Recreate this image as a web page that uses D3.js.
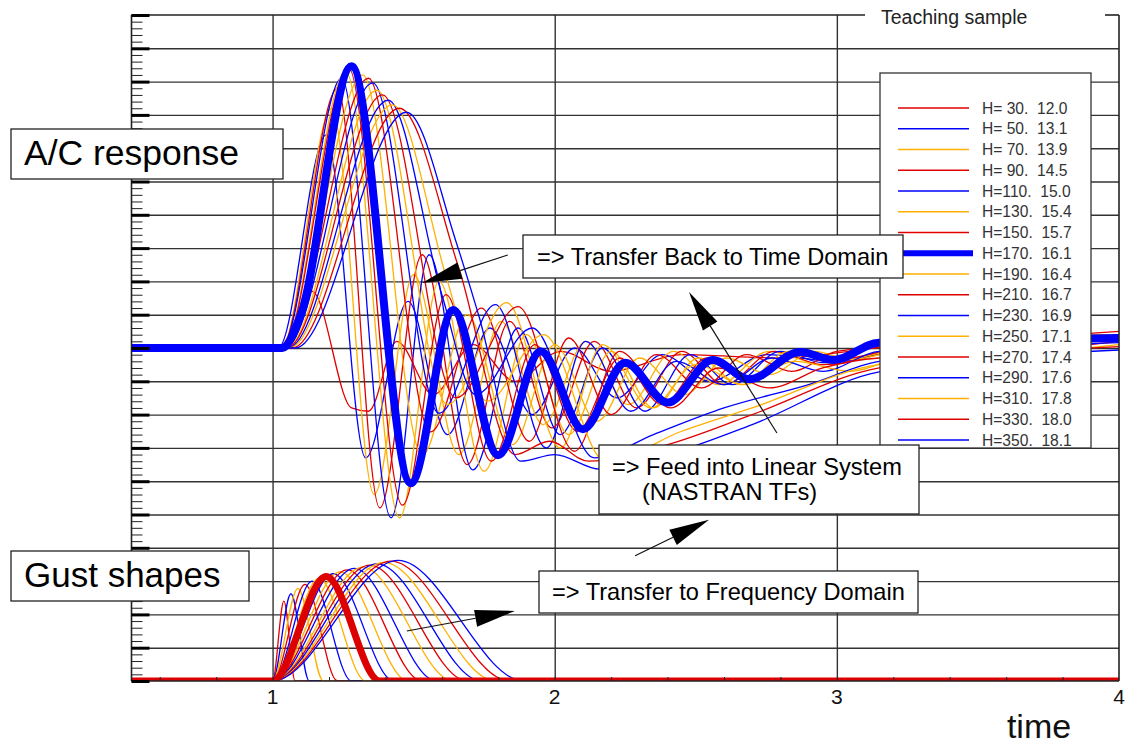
<!DOCTYPE html>
<html>
<head>
<meta charset="utf-8">
<script src="https://cdn.jsdelivr.net/npm/d3@7/dist/d3.min.js"></script>
<style>
  html, body { margin: 0; padding: 0; background: #fff; }
  svg text { font-family: "Liberation Sans", Arial, sans-serif; }
  .legendLabel { white-space: pre; }
</style>
</head>
<body>
<div id="viz"></div>
<script>
/*  Gust response teaching chart
    17 gust gradients H, their gust velocities, and the A/C response of each  */

// Gust gradient H and design gust velocity (the legend)
const gustH = [30, 50, 70, 90, 110, 130, 150, 170, 190, 210, 230, 250, 270, 290, 310, 330, 350];
const gustU = [12.0, 13.1, 13.9, 14.5, 15.0, 15.4, 15.7, 16.1, 16.4, 16.7, 16.9, 17.1, 17.4, 17.6, 17.8, 18.0, 18.1];

// gusts all start at t = 1, end time
const gustStart = 1.0;
const gustEnd = [1.08, 1.13, 1.18, 1.23, 1.28, 1.33, 1.38, 1.43, 1.48, 1.53, 1.58, 1.64, 1.69, 1.74, 1.79, 1.84, 1.89];

// A/C response, knots [time, value] (one list per H)
const resp30  = [[0.5,50],[1.02,50],[1.14,58.5],[1.28,41],[1.34,40.5],[1.44,51],[1.57,43],[1.71,50.5],[1.86,45],[2.02,49.5],[2.2,46.5],[2.45,49],[2.8,48.5],[3.2,50.2],[4.0,51]];
const resp50  = [[0.5,50],[1.02,50],[1.19,82],[1.33,33.5],[1.48,57],[1.62,37],[1.77,53],[1.92,40],[2.07,50],[2.22,42.5],[2.38,49],[2.55,45],[2.75,49],[3.0,48],[3.3,50.5],[4.0,51.5]];
const resp70  = [[0.5,50],[1.03,50],[1.21,86],[1.36,28],[1.50,61],[1.66,34],[1.81,54],[1.96,38.5],[2.11,51],[2.26,41.5],[2.42,49.5],[2.58,44.5],[2.76,49.5],[2.95,47.5],[3.3,50.5],[4.0,52]];
const resp90  = [[0.5,50],[1.03,50],[1.23,89],[1.38,26],[1.53,64],[1.69,32.5],[1.84,54],[1.99,38],[2.14,51],[2.29,41],[2.45,49.5],[2.6,44.5],[2.78,49.5],[2.95,47.5],[3.3,50.5],[4.0,52]];
const resp110 = [[0.5,50],[1.03,50],[1.245,90.5],[1.42,24.5],[1.555,64],[1.71,31.7],[1.87,53],[2.02,37],[2.17,50],[2.32,40.5],[2.48,49],[2.63,44.5],[2.8,49.5],[2.95,47.8],[3.3,50.5],[4.0,52]];
const resp130 = [[0.5,50],[1.035,50],[1.26,91.5],[1.45,24.5],[1.59,60],[1.75,31.5],[1.90,52],[2.05,37],[2.2,49.5],[2.35,41],[2.51,48.5],[2.66,44.5],[2.83,49.5],[2.97,48],[3.3,50.5],[4.0,52]];
const resp150 = [[0.5,50],[1.035,50],[1.27,92],[1.46,26.4],[1.615,58],[1.775,33],[1.93,50.5],[2.08,37.5],[2.23,48.5],[2.38,41.5],[2.54,48.5],[2.68,45],[2.85,49.5],[2.98,48.2],[3.3,50.7],[4.0,51.8]];
const resp170 = [[0.5,50],[1.035,50],[1.10,55],[1.28,92.3],[1.49,29.7],[1.64,55.7],[1.80,33.9],[1.95,49.5],[2.10,37.8],[2.25,47.8],[2.40,41.8],[2.56,48.2],[2.69,45.3],[2.87,49.4],[2.99,48.2],[3.15,50.8],[3.45,50.2],[3.7,51.2],[4.0,51.5]];
const resp190 = [[0.5,50],[1.04,50],[1.32,91],[1.53,33.9],[1.69,55],[1.85,35.5],[2.0,50.5],[2.15,39],[2.3,48.5],[2.46,43],[2.61,48.5],[2.76,46],[2.92,49.5],[3.05,48.3],[3.3,50.5],[4.0,52]];
const resp210 = [[0.5,50],[1.04,50],[1.34,90.5],[1.56,37.4],[1.74,56],[1.91,36],[2.05,51.5],[2.2,40],[2.36,49],[2.52,44],[2.68,49],[2.84,46.5],[3.0,49.5],[3.3,50.5],[4.0,52.5]];
const resp230 = [[0.5,50],[1.045,50],[1.355,89.8],[1.59,40.2],[1.79,56.5],[1.97,35],[2.11,51],[2.27,40.5],[2.43,48],[2.6,44.5],[2.77,48.5],[2.95,46.5],[3.15,49.5],[3.5,50],[4.0,52]];
const resp250 = [[0.5,50],[1.05,50],[1.37,88.7],[1.62,41.5],[1.83,56.8],[2.02,35],[2.17,50.5],[2.34,41],[2.5,47.5],[2.67,44.5],[2.85,48],[3.05,46.5],[3.25,49],[4.0,51.5]];
const resp270 = [[0.5,50],[1.05,50],[1.39,88],[1.65,42.5],[1.87,56.2],[2.07,34.5],[2.23,49.5],[2.41,41],[2.58,47],[2.76,44],[2.95,47],[3.15,48.5],[3.5,49],[4.0,51]];
const resp290 = [[0.5,50],[1.055,50],[1.41,87.2],[1.60,58],[1.72,43],[1.92,53],[2.14,33.5],[2.35,37],[2.6,41],[2.9,44.5],[3.15,48],[4.0,50.8]];
const resp310 = [[0.5,50],[1.06,50],[1.425,86.5],[1.62,60],[1.76,42],[1.96,52],[2.18,33],[2.45,37.5],[2.7,41],[3.15,47.5],[3.5,48.5],[4.0,50.5]];
const resp330 = [[0.5,50],[1.07,50],[1.45,86],[1.66,62],[1.86,34],[1.98,36],[2.12,33],[2.4,35.5],[2.7,40],[3.15,47],[4.0,50.2]];
const resp350 = [[0.5,50],[1.08,50],[1.475,85.4],[1.65,66],[1.73,55],[1.88,33],[2.0,34],[2.16,31.8],[2.4,34],[2.7,38.5],[3.15,46.4],[4.0,49.7]];

const acResponse = [resp30, resp50, resp70, resp90, resp110, resp130, resp150, resp170, resp190,
                    resp210, resp230, resp250, resp270, resp290, resp310, resp330, resp350];

const xTickLabels = [1, 2, 3, 4];
const lineColors = ["#e00000", "#0000ff", "#ffb000"];   // red, blue, orange cycle
const thickResponse = 7;   // H=170
const thickGust = 6;       // H=150

/*################
#     Layout     #
################*/
const W = 1125, H = 747;
const svg = d3.select("#viz").append("svg")
    .attr("width", W)
    .attr("height", H);

const x = d3.scaleLinear().domain([0.5, 4]).range([131.5, 1119]);
const y = d3.scaleLinear().domain([0, 100]).range([681, 15]);
const plotW = x(4) - x(0.5), plotH = y(0) - y(100);

svg.append("defs").append("clipPath").attr("id", "plotClip")
  .append("rect")
    .attr("x", x(0.5)).attr("y", y(100))
    .attr("width", plotW).attr("height", plotH);

// horizontal grid
svg.append("g")
    .attr("transform", "translate(" + x(0.5) + ",0)")
    .call(d3.axisLeft(y).tickValues(d3.range(5, 100, 5)).tickSize(-plotW).tickFormat(""))
    .call(g => g.select(".domain").remove())
    .selectAll("line").attr("stroke", "#333").attr("stroke-width", 1.4);

// vertical grid
svg.append("g")
    .attr("transform", "translate(0," + y(0) + ")")
    .call(d3.axisBottom(x).tickValues([1, 2, 3]).tickSize(-plotH).tickFormat(""))
    .call(g => g.select(".domain").remove())
    .selectAll("line").attr("stroke", "#333").attr("stroke-width", 1.4);

/*################
#     Curves     #
################*/
const line = d3.line()
    .x(d => x(d[0]))
    .y(d => y(d[1]))
    .curve(d3.curveMonotoneX);

const curves = svg.append("g").attr("clip-path", "url(#plotClip)");

// gust shapes (1-cos, peak in the middle of the gust)
const gustKnots = gustH.map((h, i) => [[0.5, 0], [gustStart, 0], [(gustStart + gustEnd[i]) / 2, gustU[i]], [gustEnd[i], 0], [4, 0]]);

gustKnots.forEach((k, i) => {
    if (i == thickGust) return;
    curves.append("path")
        .attr("d", line(k))
        .attr("fill", "none")
        .attr("stroke", lineColors[i % 3])
        .attr("stroke-width", 1.3);
});

acResponse.forEach((k, i) => {
    if (i == thickResponse) return;
    curves.append("path")
        .attr("d", line(k))
        .attr("fill", "none")
        .attr("stroke", lineColors[i % 3])
        .attr("stroke-width", 1.3);
});

curves.append("path")
    .attr("d", line(gustKnots[thickGust]))
    .attr("fill", "none")
    .attr("stroke", "#dd0000")
    .attr("stroke-width", 7);

curves.append("path")
    .attr("d", line(acResponse[thickResponse]))
    .attr("fill", "none")
    .attr("stroke", "#0000ff")
    .attr("stroke-width", 8);

/*################
#   Axes/frame   #
################*/
const frame = svg.append("g").attr("stroke", "#222").attr("fill", "none");
frame.append("line").attr("x1", x(0.5)).attr("x2", x(0.5)).attr("y1", y(100)).attr("y2", y(0)).attr("stroke-width", 1.6);
frame.append("line").attr("x1", x(4)).attr("x2", x(4)).attr("y1", y(100)).attr("y2", y(0)).attr("stroke-width", 1.6);
frame.append("line").attr("x1", x(0.5)).attr("x2", x(4)).attr("y1", y(0)).attr("y2", y(0)).attr("stroke-width", 1.6);
// top frame is broken by the title
frame.append("line").attr("x1", x(0.5)).attr("x2", 865).attr("y1", y(100)).attr("y2", y(100)).attr("stroke-width", 1.6);
frame.append("line").attr("x1", 1105).attr("x2", x(4)).attr("y1", y(100)).attr("y2", y(100)).attr("stroke-width", 1.6);

// y ticks, major & minor, drawn inward
svg.append("g")
    .attr("transform", "translate(" + x(0.5) + ",0)")
    .call(d3.axisLeft(y).tickValues(d3.range(0, 101, 1)).tickSize(-11).tickFormat(""))
    .call(g => g.select(".domain").remove())
    .selectAll("line").attr("stroke", "#222").attr("stroke-width", 1);
svg.append("g")
    .attr("transform", "translate(" + x(0.5) + ",0)")
    .call(d3.axisLeft(y).tickValues(d3.range(0, 101, 5)).tickSize(-18).tickFormat(""))
    .call(g => g.select(".domain").remove())
    .selectAll("line").attr("stroke", "#000").attr("stroke-width", 3);

// x minor ticks
svg.append("g")
    .attr("transform", "translate(0," + y(0) + ")")
    .call(d3.axisBottom(x).tickValues(d3.range(3, 20).map(k => k / 5)).tickSize(-4).tickFormat(""))
    .call(g => g.select(".domain").remove())
    .selectAll("line").attr("stroke", "#222").attr("stroke-width", 1);

// x labels
svg.append("g").selectAll("text")
    .data(xTickLabels)
    .enter().append("text")
    .attr("x", d => x(d))
    .attr("y", 704)
    .attr("text-anchor", "middle")
    .attr("font-size", 21)
    .attr("fill", "#111")
    .text(d => d);

svg.append("text")
    .attr("x", 1039).attr("y", 738)
    .attr("text-anchor", "middle")
    .attr("font-size", 34)
    .attr("fill", "#111")
    .text("time");

svg.append("text")
    .attr("x", 881).attr("y", 24)
    .attr("font-size", 19.5)
    .attr("fill", "#222")
    .text("Teaching sample");

/*################
#     Legend     #
################*/
const legend = svg.append("g");
legend.append("rect")
    .attr("x", 880).attr("y", 73).attr("width", 211).attr("height", 375)
    .attr("fill", "#fff").attr("stroke", "#333").attr("stroke-width", 1.3);

const ly = d3.scaleLinear().domain([0, gustH.length - 1]).range([108, 440]);
gustH.forEach((h, i) => {
    const thick = i == thickResponse;
    legend.append("line")
        .attr("x1", 898).attr("x2", thick ? 973 : 969)
        .attr("y1", ly(i)).attr("y2", ly(i))
        .attr("stroke", lineColors[i % 3])
        .attr("stroke-width", thick ? 6 : 1.3);
    legend.append("text")
        .attr("class", "legendLabel")
        .attr("x", 982).attr("y", ly(i) + 5.5)
        .attr("font-size", 15.6)
        .attr("fill", "#333")
        .text("H=" + (h < 100 ? " " + h : h) + ".  " + gustU[i].toFixed(1));
});

/*################
#  Annotations   #
################*/
function box(x0, y0, w, h, lines, size) {
    const g = svg.append("g");
    g.append("rect")
        .attr("x", x0).attr("y", y0).attr("width", w).attr("height", h)
        .attr("fill", "#fff").attr("stroke", "#222").attr("stroke-width", 1.3);
    lines.forEach(l => {
        g.append("text")
            .attr("class", "legendLabel")
            .attr("x", l[0]).attr("y", l[1])
            .attr("font-size", size)
            .attr("fill", "#000")
            .text(l[2]);
    });
}

box(11, 129, 272, 50, [[24, 165, "A/C response"]], 35.5);
box(11, 551, 238, 50, [[24, 587, "Gust shapes"]], 35);
box(523, 235, 380, 43, [[537, 265, "=> Transfer Back to Time Domain"]], 23.6);
box(599, 445, 320, 69, [[612, 475, "=> Feed into Linear System"], [642, 500, "(NASTRAN TFs)"]], 23.6);
box(539, 571, 379, 42, [[552, 600, "=> Transfer to Frequency Domain"]], 23.6);

// arrows, tail -> tip in data units
const arrows = [
    [[1.8335, 63.96], [1.5296, 59.76]],
    [[2.7875, 37.24], [2.476, 58.41]],
    [[2.285, 18.80], [2.547, 24.20]],
    [[1.476, 7.51], [1.859, 10.51]]
];
arrows.forEach(a => {
    const x0 = x(a[0][0]), y0 = y(a[0][1]), x1 = x(a[1][0]), y1 = y(a[1][1]);
    const len = Math.hypot(x1 - x0, y1 - y0), ux = (x1 - x0) / len, uy = (y1 - y0) / len;
    const L = 40, hw = 8.5;
    const bx = x1 - ux * L, by = y1 - uy * L;
    svg.append("line")
        .attr("x1", x0).attr("y1", y0).attr("x2", bx).attr("y2", by)
        .attr("stroke", "#111").attr("stroke-width", 1.2);
    svg.append("path")
        .attr("d", "M" + x1 + "," + y1 + "L" + (bx - uy * hw) + "," + (by + ux * hw) + "L" + (bx + uy * hw) + "," + (by - ux * hw) + "Z")
        .attr("fill", "#000");
});
</script>
</body>
</html>
